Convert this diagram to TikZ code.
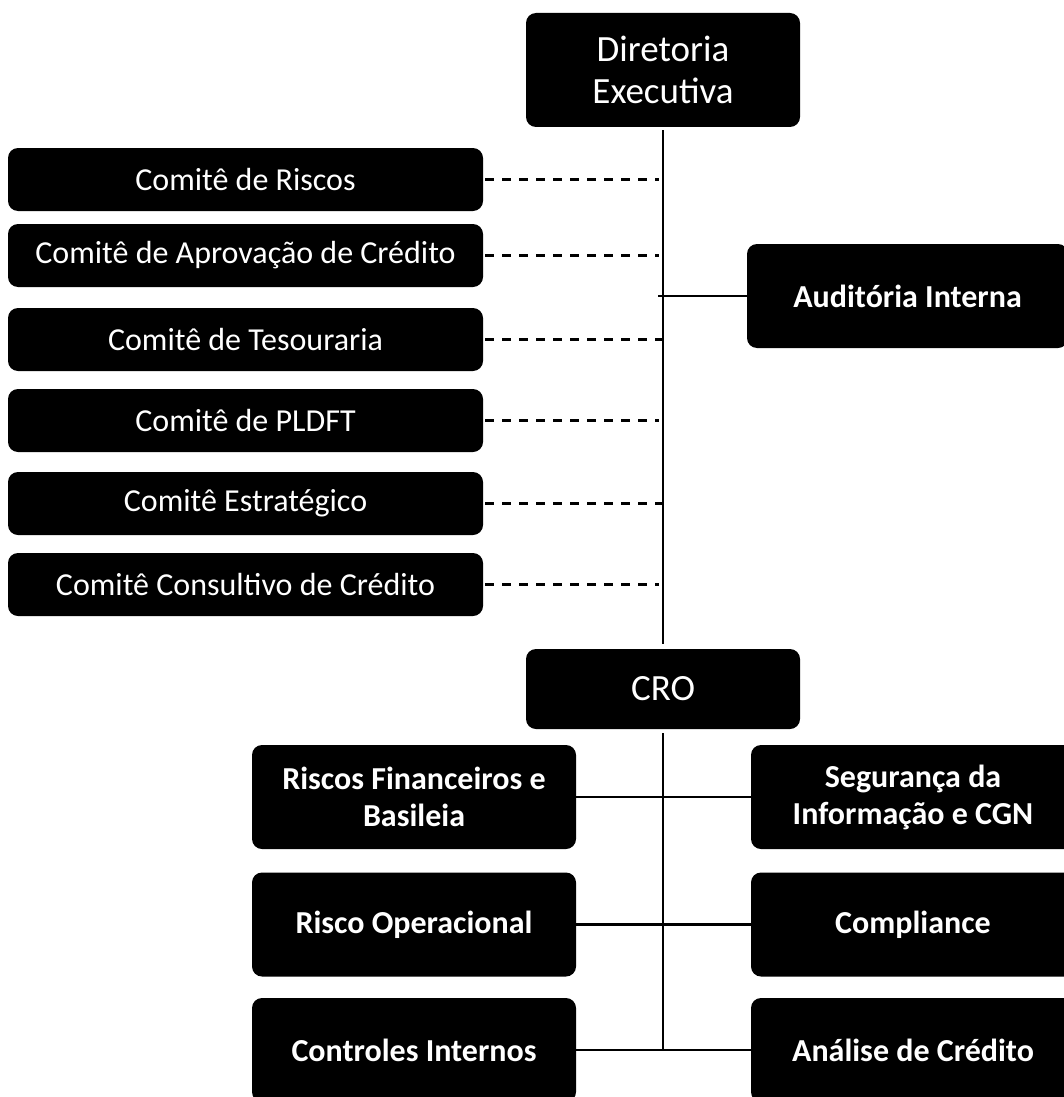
\documentclass[tikz,border=0pt]{standalone}
\usepackage{fontspec}
\setmainfont{Carlito}
\begin{document}
\begin{tikzpicture}[x=1pt,y=-1pt,
 box/.style={fill=black, text=white, rounded corners=10pt, inner sep=0pt, align=center},
 top/.style={box, minimum width=274pt, font=\fontsize{37}{42}\selectfont},
 com/.style={box, minimum width=475pt, minimum height=63pt, font=\fontsize{32}{38}\selectfont},
 unit/.style={box, minimum width=324pt, minimum height=104pt, font=\bfseries\fontsize{32}{37}\selectfont},
 conn/.style={line width=2.2pt},
 dconn/.style={line width=2.5pt, dash pattern=on 9pt off 8pt}]
\useasboundingbox (0,0) rectangle (1064,1097);

\node[top, minimum height=114pt] (dir) at (663,70) {Diretoria\\Executiva};
\node[top, minimum height=80pt] (cro) at (663,689) {CRO};

\node[com] (c1) at (245.5,179.5) {Comitê de Riscos};
\node[com] (c2) at (245.5,255.5) {Comitê de Aprovação de Crédito};
\node[com] (c3) at (245.5,339.5) {Comitê de Tesouraria};
\node[com] (c4) at (245.5,420.5) {Comitê de PLDFT};
\node[com] (c5) at (245.5,503.5) {Comitê Estratégico};
\node[com] (c6) at (245.5,584.5) {Comitê Consultivo de Crédito};

\node[unit, minimum width=321pt] (aud) at (907.5,296) {Auditória Interna};

\node[unit] (rf) at (414,797) {Riscos Financeiros e\\Basileia};
\node[unit] (si) at (913,797) {Segurança da\\Informação e CGN};
\node[unit] (ro) at (414,924.5) {Risco Operacional};
\node[unit] (cp) at (913,924.5) {Compliance};
\node[unit] (ci) at (414,1050) {Controles Internos};
\node[unit] (ac) at (913,1050) {Análise de Crédito};

% spine
\draw[conn] ([yshift=-3pt]dir.south) -- ([yshift=5pt]cro.north);
\draw[conn] ([yshift=-4pt]cro.south) -- (cro.south |- ci.east);

% committees
\draw[dconn] ([xshift=2pt]c1.east) -- ++(174,0);
\draw[dconn] ([xshift=2pt]c2.east) -- ++(174,0);
\draw[dconn] ([xshift=2pt]c3.east) -- ++(183,0);
\draw[dconn] ([xshift=2pt]c4.east) -- ++(174,0);
\draw[dconn] ([xshift=2pt]c5.east) -- ++(183,0);
\draw[dconn] ([xshift=2pt]c6.east) -- ++(174,0);

% audit
\draw[conn] (aud.west) -- ++(-89,0);

% units
\draw[conn] (rf.east) -- (si.west);
\draw[conn] (ro.east) -- (cp.west);
\draw[conn] (ci.east) -- (ac.west);
\end{tikzpicture}
\end{document}
